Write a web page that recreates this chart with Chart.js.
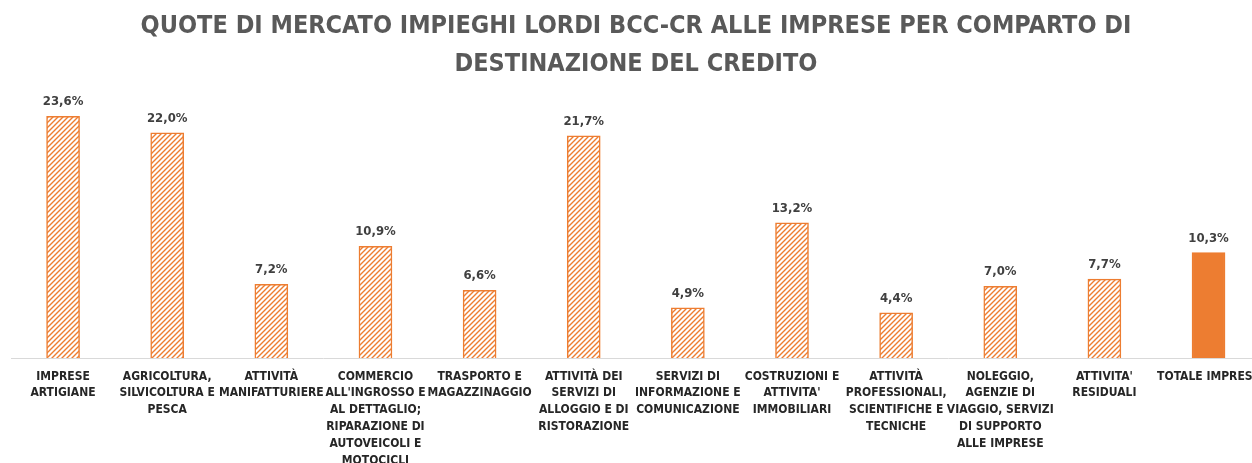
<!DOCTYPE html>
<html>
<head>
<meta charset="utf-8">
<script src="https://cdn.jsdelivr.net/npm/chart.js@4.4.0/dist/chart.umd.min.js"></script>
<style>
  html, body { margin: 0; padding: 0; background: #fff; overflow: hidden; }
  #wrap { width: 1262px; height: 463px; position: relative; }
</style>
</head>
<body>
<div id="wrap"><canvas id="quote-chart"></canvas></div>
<script>
const categories = [
    ['IMPRESE', 'ARTIGIANE'],
    ['AGRICOLTURA,', 'SILVICOLTURA E', 'PESCA'],
    ['ATTIVITÀ', 'MANIFATTURIERE'],
    ['COMMERCIO', "ALL'INGROSSO E", 'AL DETTAGLIO;', 'RIPARAZIONE DI', 'AUTOVEICOLI E', 'MOTOCICLI'],
    ['TRASPORTO E', 'MAGAZZINAGGIO'],
    ['ATTIVITÀ DEI', 'SERVIZI DI', 'ALLOGGIO E DI', 'RISTORAZIONE'],
    ['SERVIZI DI', 'INFORMAZIONE E', 'COMUNICAZIONE'],
    ['COSTRUZIONI E', "ATTIVITA'", 'IMMOBILIARI'],
    ['ATTIVITÀ', 'PROFESSIONALI,', 'SCIENTIFICHE E', 'TECNICHE'],
    ['NOLEGGIO,', 'AGENZIE DI', 'VIAGGIO, SERVIZI', 'DI SUPPORTO', 'ALLE IMPRESE'],
    ["ATTIVITA'", 'RESIDUALI'],
    ['TOTALE IMPRESE']
];
const quoteValues = [23.6, 22.0, 7.2, 10.9, 6.6, 21.7, 4.9, 13.2, 4.4, 7.0, 7.7, 10.3];

const orange = '#ED7D31';
const fontFamily = "'Liberation Sans Narrow', 'DejaVu Sans Condensed', 'Liberation Sans', sans-serif";

// hatch pattern for the sector bars
function makeHatch() {
    const size = 5;
    const c = document.createElement('canvas');
    c.width = size;
    c.height = size;
    const g = c.getContext('2d');
    g.fillStyle = '#fff';
    g.fillRect(0, 0, size, size);
    g.strokeStyle = orange;
    g.lineWidth = 1.4;
    g.beginPath();
    g.moveTo(-1, size + 1); g.lineTo(size + 1, -1);
    g.moveTo(-1, 1); g.lineTo(1, -1);
    g.moveTo(size - 1, size + 1); g.lineTo(size + 1, size - 1);
    g.stroke();
    return document.createElement('canvas').getContext('2d').createPattern(c, 'repeat');
}
const hatch = makeHatch();

const fills = quoteValues.map((v, i) => i === quoteValues.length - 1 ? orange : hatch);

// value labels above the bars
const valueLabels = {
    id: 'valueLabels',
    afterDatasetsDraw(chart) {
        const ctx = chart.ctx;
        const meta = chart.getDatasetMeta(0);
        ctx.save();
        ctx.font = 'bold 13px ' + fontFamily;
        ctx.fillStyle = '#404040';
        ctx.textAlign = 'center';
        ctx.textBaseline = 'alphabetic';
        meta.data.forEach((bar, i) => {
            const txt = quoteValues[i].toFixed(1).replace('.', ',') + '%';
            ctx.fillText(txt, bar.x, bar.y - 11);
        });
        ctx.restore();
    }
};

const quoteChart = new Chart(document.getElementById('quote-chart'), {
    type: 'bar',
    data: {
        labels: categories,
        datasets: [{
            data: quoteValues,
            backgroundColor: fills,
            borderColor: orange,
            borderWidth: 1.5,
            barThickness: 33
        }]
    },
    options: {
        responsive: true,
        maintainAspectRatio: false,
        animation: false,
        layout: { padding: { left: 11, right: 1, top: 0, bottom: 0 } },
        plugins: {
            legend: { display: false },
            tooltip: { enabled: false },
            title: {
                display: true,
                text: ['QUOTE DI MERCATO IMPIEGHI LORDI BCC-CR ALLE IMPRESE PER COMPARTO DI', 'DESTINAZIONE DEL CREDITO'],
                color: '#595959',
                font: { family: fontFamily, size: 25, weight: 'bold', lineHeight: 1.5 },
                padding: { top: 8, bottom: 19 }
            }
        },
        scales: {
            x: {
                grid: { display: false },
                border: { display: true, color: '#d9d9d9', width: 1 },
                ticks: {
                    autoSkip: false,
                    maxRotation: 0,
                    minRotation: 0,
                    padding: 2,
                    color: '#262626',
                    font: { family: fontFamily, size: 12, weight: 'bold', lineHeight: 1.4 }
                },
                afterFit(scale) { scale.height = 105; }
            },
            y: {
                display: false,
                min: 0,
                max: 25
            }
        }
    },
    plugins: [valueLabels]
});
</script>
</body>
</html>
